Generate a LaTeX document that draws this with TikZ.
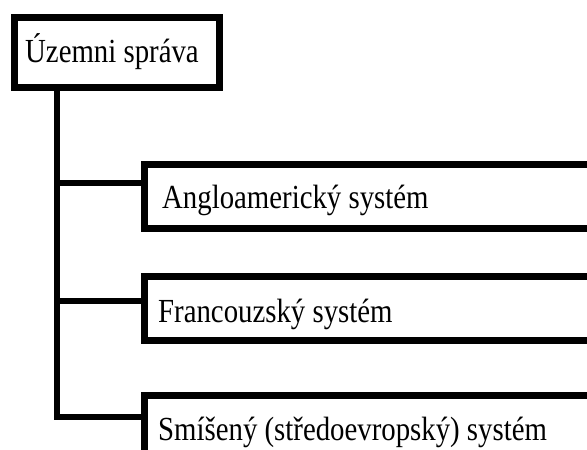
\documentclass[tikz,border=0pt]{standalone}
\usepackage{fontspec}
\setmainfont{Liberation Serif}
\newcommand{\tall}[1]{\scalebox{1}[1.17]{#1}}
\begin{document}
\begin{tikzpicture}[x=1pt,y=-1pt,
  frame/.style={draw=black,line width=6.5pt,fill=white,rectangle,inner sep=0pt,anchor=north west},
  label/.style={anchor=base west,inner sep=0pt,font=\fontsize{28.8}{32}\selectfont},
  link/.style={draw=black,line width=6.5pt}]
\useasboundingbox (0,0) rectangle (587,450);
\clip (0,0) rectangle (587,450);
% root box
\node[frame,minimum width=205pt,minimum height=70pt] (root) at (11,14) {};
\node[label] (rootlbl) at (25,62) {\tall{Územni správa}};
% child boxes, running past the right and bottom edges
\node[frame,minimum width=480pt,minimum height=64pt] (b1) at (141,161) {};
\node[frame,minimum width=480pt,minimum height=64pt] (b2) at (141,273) {};
\node[frame,minimum width=480pt,minimum height=80pt] (b3) at (141,392) {};
\node[label] (t1) at (162,208) {\tall{Angloamerický systém}};
\node[label] (t2) at (158,322) {\tall{Francouzský systém}};
\node[label] (t3) at (158,440) {\tall{Smíšený (středoevropský) systém}};
% junctions on the trunk
\coordinate (top) at (57,84);
\coordinate (j1) at (57,183);
\coordinate (j2) at (57,301);
\coordinate (j3) at (57,417);
\draw[link] (top) -- (j3) -- (j3 -| b3.west);
\draw[link] (j1) -- (j1 -| b1.west);
\draw[link] (j2) -- (j2 -| b2.west);
\end{tikzpicture}
\end{document}
